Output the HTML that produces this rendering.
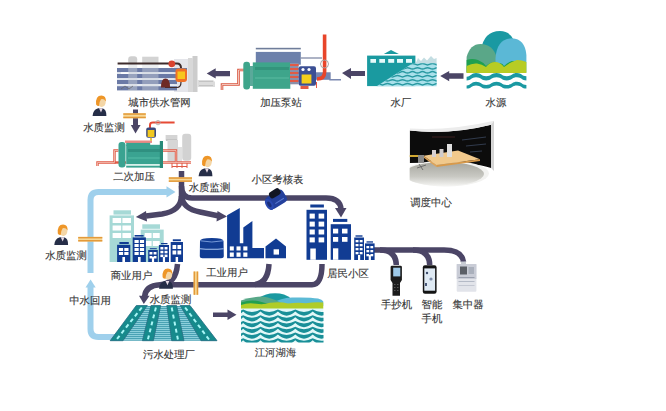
<!DOCTYPE html>
<html><head><meta charset="utf-8">
<style>
html,body{margin:0;padding:0;background:#fff;}
body{width:666px;height:411px;overflow:hidden;position:relative;font-family:"Liberation Sans",sans-serif;}
svg{position:absolute;left:0;top:0;}
.t{text-rendering:geometricPrecision;font-size:10.4px;fill:#363636;stroke:#363636;stroke-width:0.12px;font-family:"Liberation Sans",sans-serif;}
</style></head>
<body>
<svg width="666" height="411" viewBox="0 0 666 411">

<!-- light blue recycle pipe -->
<g fill="none" stroke="#9fd0ec" stroke-width="6">
<path d="M90.5 273 L90.5 200 Q90.5 192 98.5 192 L168 192"/>
<path d="M90.5 286 L90.5 329 Q90.5 337 98.5 337 L115 337"/>
</g>
<g fill="#9fd0ec">
<path d="M175.5 192 L166.5 186.3 L166.5 197.5 Z"/>
<path d="M90.6 279.5 L85.5 287.5 L95.7 287.5 Z"/>
</g>
<!-- purple supply pipes -->
<g fill="none" stroke="#4b4566" stroke-width="5.5">
<path d="M181.5 171 L181.5 200"/>
<path d="M181.5 186 Q181.5 198 192 198 L326 198 Q340 198 341 209"/>
<path d="M181.5 196 Q181 211 162 214 L146 216"/>
<path d="M181.5 196 Q183 209 200 212 L219 216"/>
<path d="M374 250 L444 250 Q462 250 463.5 262"/>
<path d="M380 250 Q396 250 396.3 265"/>
<path d="M413 250 Q429.5 250 429.7 265"/>
<path d="M177.5 264 Q176 284 160 284.8 Q145.5 285.5 144.5 297"/>
<path d="M160 284.8 L312 284.8 Q322 284.5 322 264"/>
<path d="M255 284.5 Q268 283 269 264"/>
</g>
<g fill="#4b4566">
<path d="M341 217.5 L335 208 L346.5 208 Z"/>
<path d="M135.8 217 L146 211 L147 221.5 Z"/>
<path d="M227 216.5 L217.5 211 L216.5 221.5 Z"/>
<path d="M143.8 304 L139 295.8 L149.6 295.8 Z"/>
<path d="M213 312.5 L227.5 312.5 L227.5 309.5 L236.5 314.7 L227.5 320 L227.5 317 L213 317 Z"/>
<path d="M130.8 125 L140.6 125 L135.5 133.5 Z"/>
</g>
<rect x="133" y="109.5" width="5" height="16" fill="#4b4566"/>
<!-- buildings -->
<g>
<rect x="113.5" y="210.3" width="17.5" height="4.30" fill="#a6d9d6"/>
<rect x="109.6" y="215.4" width="24.400000000000006" height="46.599999999999994" fill="#a6d9d6"/>
<rect x="112.60" y="218.00" width="8.60" height="5" fill="#fff"/>
<rect x="122.40" y="218.00" width="8.60" height="5" fill="#fff"/>
<rect x="112.60" y="225.50" width="8.60" height="5" fill="#fff"/>
<rect x="122.40" y="225.50" width="8.60" height="5" fill="#fff"/>
<rect x="112.60" y="233.00" width="8.60" height="5" fill="#fff"/>
<rect x="122.40" y="233.00" width="8.60" height="5" fill="#fff"/>
<rect x="142.3" y="224.3" width="17.69999999999999" height="4.50" fill="#a6d9d6"/>
<rect x="140.7" y="229.6" width="23.0" height="32.400000000000006" fill="#a6d9d6"/>
<rect x="144.70" y="233.00" width="6.90" height="5" fill="#fff"/>
<rect x="152.80" y="233.00" width="6.90" height="5" fill="#fff"/>
<rect x="144.70" y="241.00" width="6.90" height="5" fill="#fff"/>
<rect x="152.80" y="241.00" width="6.90" height="5" fill="#fff"/>
<rect x="119.4" y="242" width="9.400000000000006" height="2.00" fill="#113c93"/>
<rect x="117.1" y="244.8" width="13.200000000000017" height="17.19999999999999" fill="#113c93"/>
<rect x="118.90" y="248.00" width="4.20" height="3" fill="#fff"/>
<rect x="124.30" y="248.00" width="4.20" height="3" fill="#fff"/>
<rect x="118.90" y="252.00" width="4.20" height="3" fill="#fff"/>
<rect x="124.30" y="252.00" width="4.20" height="3" fill="#fff"/>
<rect x="122.38" y="257" width="2.64" height="5" fill="#fff"/>
<rect x="134.6" y="235" width="9.0" height="1.60" fill="#113c93"/>
<rect x="132.7" y="237.4" width="13.200000000000017" height="24.599999999999994" fill="#113c93"/>
<rect x="134.50" y="240.00" width="4.20" height="3" fill="#fff"/>
<rect x="139.90" y="240.00" width="4.20" height="3" fill="#fff"/>
<rect x="134.50" y="244.00" width="4.20" height="3" fill="#fff"/>
<rect x="139.90" y="244.00" width="4.20" height="3" fill="#fff"/>
<rect x="134.50" y="248.00" width="4.20" height="3" fill="#fff"/>
<rect x="139.90" y="248.00" width="4.20" height="3" fill="#fff"/>
<rect x="134.50" y="252.00" width="4.20" height="3" fill="#fff"/>
<rect x="139.90" y="252.00" width="4.20" height="3" fill="#fff"/>
<rect x="137.98" y="257" width="2.64" height="5" fill="#fff"/>
<rect x="149.8" y="248.2" width="7.0" height="1.00" fill="#113c93"/>
<rect x="148.2" y="250" width="9.600000000000023" height="12" fill="#113c93"/>
<rect x="149.50" y="252.00" width="2.90" height="2.5" fill="#fff"/>
<rect x="153.60" y="252.00" width="2.90" height="2.5" fill="#fff"/>
<rect x="149.50" y="256.00" width="2.90" height="2.5" fill="#fff"/>
<rect x="153.60" y="256.00" width="2.90" height="2.5" fill="#fff"/>
<rect x="151.90" y="257" width="2.20" height="5" fill="#fff"/>
<rect x="161" y="243" width="6.5" height="1.20" fill="#113c93"/>
<rect x="158.9" y="245" width="10.099999999999994" height="17" fill="#113c93"/>
<rect x="160.40" y="247.00" width="2.95" height="2.5" fill="#fff"/>
<rect x="164.55" y="247.00" width="2.95" height="2.5" fill="#fff"/>
<rect x="160.40" y="250.80" width="2.95" height="2.5" fill="#fff"/>
<rect x="164.55" y="250.80" width="2.95" height="2.5" fill="#fff"/>
<rect x="160.40" y="254.60" width="2.95" height="2.5" fill="#fff"/>
<rect x="164.55" y="254.60" width="2.95" height="2.5" fill="#fff"/>
<rect x="162.85" y="257" width="2.20" height="5" fill="#fff"/>
<rect x="172.8" y="239.3" width="8.099999999999994" height="1.90" fill="#113c93"/>
<rect x="170.7" y="242" width="12.300000000000011" height="20" fill="#113c93"/>
<rect x="172.50" y="245.00" width="3.75" height="4" fill="#fff"/>
<rect x="177.45" y="245.00" width="3.75" height="4" fill="#fff"/>
<rect x="172.50" y="250.50" width="3.75" height="4" fill="#fff"/>
<rect x="177.45" y="250.50" width="3.75" height="4" fill="#fff"/>
<rect x="175.62" y="257" width="2.46" height="5" fill="#fff"/>
<rect x="310.3" y="204.5" width="13.6" height="3" fill="#113c93"/>
<rect x="306.5" y="209.8" width="20.5" height="50" fill="#113c93"/>
<rect x="309.6" y="213.6" width="5.2" height="5" fill="#fff"/><rect x="318.6" y="213.6" width="5.6" height="5" fill="#fff"/>
<rect x="309.6" y="221.6" width="5.2" height="5" fill="#fff"/><rect x="318.6" y="221.6" width="5.6" height="5" fill="#fff"/>
<rect x="309.6" y="229.5" width="5.2" height="5" fill="#fff"/><rect x="318.6" y="229.5" width="5.6" height="5" fill="#fff"/>
<rect x="309.6" y="237.4" width="5.2" height="5" fill="#fff"/><rect x="318.6" y="237.4" width="5.6" height="5" fill="#fff"/>
<rect x="310.3" y="248.5" width="5.5" height="11.3" fill="#fff"/>
<rect x="333" y="218.9" width="14.3" height="3" fill="#113c93"/>
<rect x="330.7" y="224.2" width="20.3" height="35.6" fill="#113c93"/>
<rect x="333" y="228.7" width="5.2" height="4.8" fill="#fff"/><rect x="342" y="228.7" width="5.5" height="4.8" fill="#fff"/>
<rect x="333" y="237" width="5.2" height="4.8" fill="#fff"/><rect x="342" y="237" width="5.5" height="4.8" fill="#fff"/>
<rect x="333" y="248.3" width="5.3" height="11.5" fill="#fff"/>
<rect x="355.5" y="235.3" width="7.0" height="1.40" fill="#113c93"/>
<rect x="354.2" y="237.5" width="9.800000000000011" height="22.5" fill="#113c93"/>
<rect x="355.60" y="240.00" width="2.90" height="2.3" fill="#fff"/>
<rect x="359.70" y="240.00" width="2.90" height="2.3" fill="#fff"/>
<rect x="355.60" y="244.00" width="2.90" height="2.3" fill="#fff"/>
<rect x="359.70" y="244.00" width="2.90" height="2.3" fill="#fff"/>
<rect x="355.60" y="248.00" width="2.90" height="2.3" fill="#fff"/>
<rect x="359.70" y="248.00" width="2.90" height="2.3" fill="#fff"/>
<rect x="355.60" y="252.00" width="2.90" height="2.3" fill="#fff"/>
<rect x="359.70" y="252.00" width="2.90" height="2.3" fill="#fff"/>
<rect x="358.00" y="255" width="2.20" height="5" fill="#fff"/>
<rect x="366.5" y="241.3" width="6.5" height="1.30" fill="#113c93"/>
<rect x="365" y="243.4" width="9.600000000000023" height="16.599999999999994" fill="#113c93"/>
<rect x="366.40" y="246.00" width="2.80" height="2.3" fill="#fff"/>
<rect x="370.40" y="246.00" width="2.80" height="2.3" fill="#fff"/>
<rect x="366.40" y="250.00" width="2.80" height="2.3" fill="#fff"/>
<rect x="370.40" y="250.00" width="2.80" height="2.3" fill="#fff"/>
<rect x="366.40" y="254.00" width="2.80" height="2.3" fill="#fff"/>
<rect x="370.40" y="254.00" width="2.80" height="2.3" fill="#fff"/>
<rect x="368.70" y="255" width="2.20" height="5" fill="#fff"/>
</g>
<!-- industrial -->
<g fill="#113c93">
<path d="M200 241 Q200 237.9 211.8 237.9 Q223.5 237.9 223.5 241 L223.8 256 Q223.8 258.2 221 258.2 L202.6 258.2 Q199.8 258.2 199.8 256 Z"/>
<path d="M227.1 215.2 L239.8 208 L239.8 243.3 L243.3 243.3 L243.3 227.6 L252.4 221 L252.4 248 L264 248 L264 258.3 L227.1 258.3 Z"/>
<path d="M265.5 258.3 L265.5 246.5 L276 238.6 L286 246.5 L286 258.3 Z"/>
</g>
<path d="M200.5 240.8 Q211.8 243.2 223 240.8" fill="none" stroke="#8fb0e8" stroke-width="0.8"/>
<path d="M200 248.7 Q211.8 249.8 223.6 248.7" fill="none" stroke="#a8c4f0" stroke-width="1.1"/>
<g fill="#fff">
<rect x="229.8" y="246.4" width="4" height="4.1"/><rect x="236.5" y="246.4" width="4.1" height="4.1"/><rect x="243.3" y="246.4" width="4.1" height="4.1"/>
<rect x="229.8" y="252.5" width="4" height="4.3"/><rect x="236.5" y="252.5" width="4.1" height="4.3"/><rect x="243.3" y="252.5" width="4.1" height="4.3"/>
<rect x="273.6" y="249.3" width="5.4" height="5.3"/>
</g>
<!-- sewage plant -->
<defs>
<pattern id="mesh" width="3" height="2" patternUnits="userSpaceOnUse">
<rect width="3" height="2" fill="#8ccfdb"/>
<rect width="3" height="1" fill="#4aa2b4"/>
</pattern>
</defs>
<path d="M137 306 L190 306 L217 340.7 L110 340.7 Z" fill="url(#mesh)"/>
<g fill="#168a8c" stroke="#2a6f84" stroke-width="0.8">
<path d="M136.3 305.5 L147.3 305.5 L123 340.7 L110.2 340.7 Z"/>
<path d="M151 305.5 L160.7 305.5 L153.4 340.7 L142.4 340.7 Z"/>
<path d="M166.8 305.5 L176.6 305.5 L184 340.7 L171.7 340.7 Z"/>
<path d="M180.2 305.5 L190 305.5 L217 340.7 L201 340.7 Z"/>
</g>
<g stroke="#a8f6f6" stroke-width="2" stroke-dasharray="4 3.2" fill="none">
<path d="M141.8 307.5 L116.6 339.5"/>
<path d="M155.9 307.5 L147.9 339.5"/>
<path d="M171.7 307.5 L177.9 339.5"/>
<path d="M185.1 307.5 L209 339.5"/>
</g>
<!-- lake -->
<defs><clipPath id="lakeclip"><rect x="241" y="290" width="82.5" height="52.6"/></clipPath></defs>
<g clip-path="url(#lakeclip)">
<rect x="241" y="308" width="82.5" height="36" fill="#e2f8f8"/>
<path d="M255 300 Q262 295 270 293.5 Q278 292.5 284 294.5 Q288 296 291 298.5 L291 306 L255 306 Z" fill="#1a99a0"/>
<path d="M273 303 Q280 298 292 297.5 Q310 297 318 298.5 Q322 299.5 323.5 301.5 L323.5 306 L273 306 Z" fill="#5cbad6"/>
<path d="M241 300.5 Q250 297 262 296.5 Q272 297.5 281 303 L281 306 L241 306 Z" fill="#58a888"/>
<path d="M241 302.5 Q250 299.5 258 301 Q266 303 273 305.5 L241 307 Z" fill="#22a050"/>
<path d="M241 305 Q248 302.5 256 303.8 Q264 305 270 302.8 Q280 301.2 288 303.5 Q298 302 306 303.2 Q316 301.6 323.5 302.6 L323.5 308.6 L241 308.6 Z" fill="#b0cc28"/>
<g fill="#198f98">
<path d="M225.70 309.60 Q234.40 314.20 243.10 309.60 Q251.80 314.20 260.50 309.60 Q269.20 314.20 277.90 309.60 Q286.60 314.20 295.30 309.60 Q304.00 314.20 312.70 309.60 Q321.40 314.20 330.10 309.60 L330.10 311.60 Q321.40 319.80 312.70 311.60 Q304.00 319.80 295.30 311.60 Q286.60 319.80 277.90 311.60 Q269.20 319.80 260.50 311.60 Q251.80 319.80 243.10 311.60 Q234.40 319.80 225.70 311.60 Z"/>
<path d="M225.70 315.35 Q234.40 319.95 243.10 315.35 Q251.80 319.95 260.50 315.35 Q269.20 319.95 277.90 315.35 Q286.60 319.95 295.30 315.35 Q304.00 319.95 312.70 315.35 Q321.40 319.95 330.10 315.35 L330.10 317.35 Q321.40 325.55 312.70 317.35 Q304.00 325.55 295.30 317.35 Q286.60 325.55 277.90 317.35 Q269.20 325.55 260.50 317.35 Q251.80 325.55 243.10 317.35 Q234.40 325.55 225.70 317.35 Z"/>
<path d="M225.70 321.10 Q234.40 325.70 243.10 321.10 Q251.80 325.70 260.50 321.10 Q269.20 325.70 277.90 321.10 Q286.60 325.70 295.30 321.10 Q304.00 325.70 312.70 321.10 Q321.40 325.70 330.10 321.10 L330.10 323.10 Q321.40 331.30 312.70 323.10 Q304.00 331.30 295.30 323.10 Q286.60 331.30 277.90 323.10 Q269.20 331.30 260.50 323.10 Q251.80 331.30 243.10 323.10 Q234.40 331.30 225.70 323.10 Z"/>
<path d="M225.70 326.85 Q234.40 331.45 243.10 326.85 Q251.80 331.45 260.50 326.85 Q269.20 331.45 277.90 326.85 Q286.60 331.45 295.30 326.85 Q304.00 331.45 312.70 326.85 Q321.40 331.45 330.10 326.85 L330.10 328.85 Q321.40 337.05 312.70 328.85 Q304.00 337.05 295.30 328.85 Q286.60 337.05 277.90 328.85 Q269.20 337.05 260.50 328.85 Q251.80 337.05 243.10 328.85 Q234.40 337.05 225.70 328.85 Z"/>
<path d="M225.70 332.60 Q234.40 337.20 243.10 332.60 Q251.80 337.20 260.50 332.60 Q269.20 337.20 277.90 332.60 Q286.60 337.20 295.30 332.60 Q304.00 337.20 312.70 332.60 Q321.40 337.20 330.10 332.60 L330.10 334.60 Q321.40 342.80 312.70 334.60 Q304.00 342.80 295.30 334.60 Q286.60 342.80 277.90 334.60 Q269.20 342.80 260.50 334.60 Q251.80 342.80 243.10 334.60 Q234.40 342.80 225.70 334.60 Z"/>
<path d="M225.70 338.35 Q234.40 342.95 243.10 338.35 Q251.80 342.95 260.50 338.35 Q269.20 342.95 277.90 338.35 Q286.60 342.95 295.30 338.35 Q304.00 342.95 312.70 338.35 Q321.40 342.95 330.10 338.35 L330.10 340.35 Q321.40 348.55 312.70 340.35 Q304.00 348.55 295.30 340.35 Q286.60 348.55 277.90 340.35 Q269.20 348.55 260.50 340.35 Q251.80 348.55 243.10 340.35 Q234.40 348.55 225.70 340.35 Z"/>
</g>
</g>

<!-- pump station -->
<g id="pump">
<path d="M222 90 L222 84.5 L238.5 84.5 L238.5 70 L244 70" fill="none" stroke="#d9553f" stroke-width="2.6"/>
<path d="M222 90 L222 84.5 L238.5 84.5 L238.5 70 L244 70" fill="none" stroke="#f8e0d8" stroke-width="0.8"/>
<rect x="255.8" y="47.8" width="45" height="1.6" fill="#6f7d9a"/>
<rect x="255.8" y="51.9" width="45" height="12.8" fill="#6c80ab"/>
<rect x="252.8" y="62.4" width="37.5" height="26.4" fill="#3ea58b"/>
<rect x="255" y="67" width="34" height="3" fill="#33947c"/>
<rect x="255" y="77" width="34" height="2" fill="#4cb096"/>
<rect x="243.3" y="61.7" width="6.7" height="27.9" rx="3" fill="#3ea58b"/>
<rect x="250" y="66" width="3" height="20" fill="#5aa99a"/>
<rect x="290" y="63" width="8.6" height="21.3" fill="#8b8fa8"/>
<g fill="#e25a45"><rect x="290" y="64" width="8.6" height="2"/><rect x="290" y="68" width="8.6" height="2"/><rect x="290" y="72" width="8.6" height="2"/><rect x="290" y="76" width="8.6" height="2"/><rect x="290" y="80" width="8.6" height="2"/></g>
<rect x="300" y="57.3" width="22" height="1.4" fill="#8a93ad"/>
<path d="M316 73 L330 73 L330 79.8 L341 79.8" fill="none" stroke="#7a88b0" stroke-width="1.4"/>
<rect x="316" y="73" width="14" height="6.8" fill="#7485b2"/>
<path d="M324.6 34.5 L324.6 72 Q324.6 79 317 79" fill="none" stroke="#e8452a" stroke-width="3.6"/>
<circle cx="324.5" cy="64" r="4" fill="none" stroke="#a8a8a8" stroke-width="1"/>
<rect x="298.6" y="66.2" width="17.4" height="19.6" rx="2" fill="#3b4f94"/>
<rect x="301.6" y="74.5" width="9.8" height="9" fill="#f4cf1c"/>
<circle cx="303" cy="69.5" r="1.6" fill="#fff"/><circle cx="309" cy="69.5" r="1.6" fill="#fff"/>
<rect x="300.5" y="86" width="8" height="3" fill="#e25a45"/>
<rect x="316" y="82" width="1" height="6" fill="#e25a45"/>
</g>
<!-- city network -->
<g id="net">
<rect x="174" y="59" width="18.5" height="33" fill="#e4e5ea"/>
<rect x="128.2" y="56.2" width="9" height="8" rx="3" fill="#cfcfcf"/>
<rect x="142.2" y="56.7" width="16.3" height="7" fill="#d3d3d3"/>
<rect x="117" y="68" width="70" height="4.2" fill="#6b7aa6"/>
<rect x="117" y="74" width="70" height="4.2" fill="#6b7aa6"/>
<rect x="117" y="80" width="60" height="4.2" fill="#6b7aa6"/>
<rect x="117" y="86.2" width="60" height="4.2" fill="#6b7aa6"/>
<rect x="117" y="72.4" width="70" height="1.4" fill="#d9e0ea"/>
<rect x="117" y="78.4" width="70" height="1.4" fill="#d9e0ea"/>
<rect x="117" y="84.4" width="60" height="1.6" fill="#e7ecf2"/>
<rect x="121" y="72.3" width="8" height="1.6" fill="#ffffff"/>
<rect x="128.2" y="63" width="9" height="28" fill="#d0d4dc" opacity="0.45"/>
<rect x="142.2" y="63" width="16.3" height="28" fill="#d0d4dc" opacity="0.4"/>
<rect x="188" y="58" width="4.5" height="34" fill="#d8d8d8"/>
<rect x="192.5" y="56" width="5" height="36" fill="#cccccc"/>
<path d="M197.5 80 L213 80 L215 82 L215 87 L197.5 87 Z" fill="#dcdcdc"/>
<path d="M199 81.5 L213 81.5 M199 85.5 L213 85.5" stroke="#bdbdbd" stroke-width="0.8"/>
<path d="M117.6 63.4 L177 63.4 Q181 63.4 181 68" fill="none" stroke="#3d2b2b" stroke-width="2"/>
<path d="M165 87.5 L177 87.5 Q181 87.5 181 82" fill="none" stroke="#3d2b2b" stroke-width="1.2"/>
<circle cx="171.8" cy="63.8" r="3.4" fill="#d9432f"/>
<path d="M161 87.5 Q161 78.5 165.5 78.5 Q170 78.5 170 87.5 Z" fill="#6e2a26"/>
<rect x="175.5" y="68.5" width="11.5" height="13.5" rx="3" fill="#f07026"/>
<rect x="177.5" y="71.5" width="7.5" height="7.5" fill="#f7c71c"/>
<path d="M121 89 L125 86 L129 89 L133 86" stroke="#666" stroke-width="0.7" fill="none"/>
</g>
<!-- secondary pressurization -->
<g id="sec">
<rect x="165.6" y="135" width="11.8" height="4" fill="#d4d4d4"/>
<path d="M165.6 139 L177.4 139 L177 141 L166 141 Z" fill="#c4c4c4"/>
<rect x="167.5" y="140" width="10.5" height="22" fill="#d6d6d6"/>
<rect x="178" y="147" width="4" height="15" fill="#e0e0e0"/>
<rect x="182.2" y="133.7" width="9" height="27" rx="3" fill="#d2d2d2"/>
<g fill="none" stroke="#e05a45" stroke-width="2.4">
<path d="M118.5 150.5 L114.5 150.5 L114.5 162.5 L97.5 162.5 L97.5 166"/>
<path d="M114.5 162.5 L126 162.5"/>
<path d="M163 150.5 L176 150.5 L176 162.5"/>
<path d="M162 162.5 L191 162.5"/>
</g>
<g fill="none" stroke="#f7d2c8" stroke-width="0.7">
<path d="M118.5 150.5 L114.5 150.5 L114.5 162.5 L97.5 162.5 L97.5 166"/>
<path d="M163 150.5 L176 150.5 L176 162.5"/>
<path d="M162 162.5 L191 162.5"/>
</g>
<g fill="none" stroke="#e05a45" stroke-width="1">
<path d="M172 163 L172 168 M177 163 L177 168 M182 163 L182 168 M187 163 L187 168"/>
<path d="M172 166.5 L187 166.5"/>
</g>
<rect x="126.2" y="142" width="24" height="4" fill="#3aa391"/>
<rect x="126.2" y="144.8" width="36.7" height="19.4" fill="#3aa391"/>
<rect x="128" y="149" width="32" height="3" fill="#2f9080"/>
<rect x="128" y="157" width="32" height="2" fill="#47b09c"/>
<rect x="126.2" y="164.2" width="36.7" height="1.6" fill="#d8f0ea"/>
<rect x="126.2" y="165.8" width="36.7" height="1.8" fill="#3aa391"/>
<rect x="118.5" y="142" width="7" height="25.6" rx="3" fill="#3aa391"/>
<rect x="159.8" y="141" width="3.2" height="27" fill="#2a8a78"/>
<rect x="125" y="140.5" width="27" height="2.4" fill="#ec8a86"/>
<path d="M150 128 L150 125 Q150 122.6 153 122.6 L174.6 122.6" fill="none" stroke="#e64a35" stroke-width="2"/>
<circle cx="158" cy="122.6" r="2.2" fill="none" stroke="#aaa" stroke-width="0.8"/>
<rect x="146.2" y="127.5" width="9.8" height="10.3" rx="2" fill="#3c4a7c"/>
<rect x="147.6" y="130" width="6.8" height="7" fill="#f2c81e"/>
<rect x="150" y="137.8" width="2" height="3" fill="#e8c04a"/>
</g>
<!-- arrows top row -->
<g fill="#4b4566">
<path d="M342 73 L351 68 L351 71 L365 71 L365 76 L351 76 L351 79 Z"/>
<path d="M440.2 76 L449.2 70.9 L449.2 73.3 L463.5 73.3 L463.5 78.7 L449.2 78.7 L449.2 81.2 Z"/>
<path d="M206.7 73.5 L215.7 68.3 L215.7 70.9 L230 70.9 L230 76.2 L215.7 76.2 L215.7 78.6 Z"/>
</g>

<!-- water source -->
<g id="src">
<path d="M481 50 Q484 31 500 31 Q513 31 516 48 L516 62 L481 62 Z" fill="#1a99a2"/>
<path d="M466.6 72.5 L466.6 57 Q470 44 480.5 43.9 Q493 44 497 58 L497 72.5 Z" fill="#5aa788"/>
<path d="M495.5 72.5 L495.5 58 Q497 38.3 512 38.3 Q525 39 526.4 55 L526.4 72.5 Z" fill="#5bb8d6"/>
<path d="M466.6 72.5 L466.6 60 Q472 58 478 60 Q483 62 486 66 Q490 62 496 62 L497 72.5 Z" fill="#1ea050"/>
<path d="M498 72.5 L498 64 Q502 62 504 66 Q508 62 512 61 L526 62 L526 72.5 Z" fill="#1ea050"/>
<path d="M466.6 73 L466.6 66 Q472 63 477 63.5 Q482 64 486 67 Q490 62 495 62 Q500 62 504 67 Q510 62 517 60 Q522 60 526.4 62 L526.4 73 Z" fill="#b7cc24"/>

<path d="M466.6 76.7 C471.30 76.20 471.30 73.00 476.00 73.00 C481.10 73.00 481.10 76.20 486.20 76.20 C491.35 76.20 491.35 73.00 496.50 73.00 C501.60 73.00 501.60 76.20 506.70 76.20 C511.85 76.20 511.85 73.00 517.00 73.00 C521.70 73.00 521.70 76.20 526.40 76.20 L526.4 80.4 C521.70 80.40 521.70 77.20 517.00 77.20 C511.85 77.20 511.85 80.40 506.70 80.40 C501.60 80.40 501.60 77.20 496.50 77.20 C491.35 77.20 491.35 80.40 486.20 80.40 C481.10 80.40 481.10 77.20 476.00 77.20 C471.30 77.20 471.30 80.40 466.60 80.40 Z" fill="#1a99a2"/>
<path d="M466.6 85.5 C471.30 85.00 471.30 81.80 476.00 81.80 C481.10 81.80 481.10 85.00 486.20 85.00 C491.35 85.00 491.35 81.80 496.50 81.80 C501.60 81.80 501.60 85.00 506.70 85.00 C511.85 85.00 511.85 81.80 517.00 81.80 C521.70 81.80 521.70 85.00 526.40 85.00 L526.4 88.6 C521.70 88.60 521.70 85.40 517.00 85.40 C511.85 85.40 511.85 88.60 506.70 88.60 C501.60 88.60 501.60 85.40 496.50 85.40 C491.35 85.40 491.35 88.60 486.20 88.60 C481.10 88.60 481.10 85.40 476.00 85.40 C471.30 85.40 471.30 88.60 466.60 88.60 Z" fill="#1a99a2"/>
</g>

<!-- water plant -->
<g id="plant">
<path d="M383.8 54 L391 50 L398.8 54 Z" fill="#1a9aa0"/>
<rect x="367.1" y="55.6" width="48.3" height="30.5" fill="#1a9aa0"/>
<g fill="#e6fafa"><rect x="370.4" y="59" width="5.6" height="3.8"/><rect x="379.3" y="59" width="5.7" height="3.8"/><rect x="388.2" y="59" width="6" height="3.8"/><rect x="397" y="59" width="6" height="3.8"/><rect x="406" y="59" width="6" height="3.8"/></g>
<path d="M415.4 64 L418 58 L421 61 L424 57.5 L427 60.5 L431 56 L434 59 L436.6 58 L436.6 64 Z" fill="#c3dde2"/>
<defs><clipPath id="plclip"><path d="M376.6 86.3 L412.7 63.2 L436.6 63.2 L436.6 86.3 Z"/></clipPath></defs>
<g clip-path="url(#plclip)">
<rect x="370" y="62" width="70" height="26" fill="#a9e0ea"/>
<g fill="none" stroke="#2a9aa2" stroke-width="1.5">
<path d="M360 64.2 Q362.5 62.800000000000004 365 64.2 Q367.5 65.60000000000001 370 64.2 Q372.5 62.800000000000004 375 64.2 Q377.5 65.60000000000001 380 64.2 Q382.5 62.800000000000004 385 64.2 Q387.5 65.60000000000001 390 64.2 Q392.5 62.800000000000004 395 64.2 Q397.5 65.60000000000001 400 64.2 Q402.5 62.800000000000004 405 64.2 Q407.5 65.60000000000001 410 64.2 Q412.5 62.800000000000004 415 64.2 Q417.5 65.60000000000001 420 64.2 Q422.5 62.800000000000004 425 64.2 Q427.5 65.60000000000001 430 64.2 Q432.5 62.800000000000004 435 64.2 Q437.5 65.60000000000001 440 64.2"/>
<path d="M365 68.4 Q367.5 67.0 370 68.4 Q372.5 69.80000000000001 375 68.4 Q377.5 67.0 380 68.4 Q382.5 69.80000000000001 385 68.4 Q387.5 67.0 390 68.4 Q392.5 69.80000000000001 395 68.4 Q397.5 67.0 400 68.4 Q402.5 69.80000000000001 405 68.4 Q407.5 67.0 410 68.4 Q412.5 69.80000000000001 415 68.4 Q417.5 67.0 420 68.4 Q422.5 69.80000000000001 425 68.4 Q427.5 67.0 430 68.4 Q432.5 69.80000000000001 435 68.4 Q437.5 67.0 440 68.4 Q442.5 69.80000000000001 445 68.4"/>
<path d="M360 72.3 Q362.5 70.89999999999999 365 72.3 Q367.5 73.7 370 72.3 Q372.5 70.89999999999999 375 72.3 Q377.5 73.7 380 72.3 Q382.5 70.89999999999999 385 72.3 Q387.5 73.7 390 72.3 Q392.5 70.89999999999999 395 72.3 Q397.5 73.7 400 72.3 Q402.5 70.89999999999999 405 72.3 Q407.5 73.7 410 72.3 Q412.5 70.89999999999999 415 72.3 Q417.5 73.7 420 72.3 Q422.5 70.89999999999999 425 72.3 Q427.5 73.7 430 72.3 Q432.5 70.89999999999999 435 72.3 Q437.5 73.7 440 72.3"/>
<path d="M365 76.2 Q367.5 74.8 370 76.2 Q372.5 77.60000000000001 375 76.2 Q377.5 74.8 380 76.2 Q382.5 77.60000000000001 385 76.2 Q387.5 74.8 390 76.2 Q392.5 77.60000000000001 395 76.2 Q397.5 74.8 400 76.2 Q402.5 77.60000000000001 405 76.2 Q407.5 74.8 410 76.2 Q412.5 77.60000000000001 415 76.2 Q417.5 74.8 420 76.2 Q422.5 77.60000000000001 425 76.2 Q427.5 74.8 430 76.2 Q432.5 77.60000000000001 435 76.2 Q437.5 74.8 440 76.2 Q442.5 77.60000000000001 445 76.2"/>
<path d="M360 80.4 Q362.5 79.0 365 80.4 Q367.5 81.80000000000001 370 80.4 Q372.5 79.0 375 80.4 Q377.5 81.80000000000001 380 80.4 Q382.5 79.0 385 80.4 Q387.5 81.80000000000001 390 80.4 Q392.5 79.0 395 80.4 Q397.5 81.80000000000001 400 80.4 Q402.5 79.0 405 80.4 Q407.5 81.80000000000001 410 80.4 Q412.5 79.0 415 80.4 Q417.5 81.80000000000001 420 80.4 Q422.5 79.0 425 80.4 Q427.5 81.80000000000001 430 80.4 Q432.5 79.0 435 80.4 Q437.5 81.80000000000001 440 80.4"/>
<path d="M365 84.2 Q367.5 82.8 370 84.2 Q372.5 85.60000000000001 375 84.2 Q377.5 82.8 380 84.2 Q382.5 85.60000000000001 385 84.2 Q387.5 82.8 390 84.2 Q392.5 85.60000000000001 395 84.2 Q397.5 82.8 400 84.2 Q402.5 85.60000000000001 405 84.2 Q407.5 82.8 410 84.2 Q412.5 85.60000000000001 415 84.2 Q417.5 82.8 420 84.2 Q422.5 85.60000000000001 425 84.2 Q427.5 82.8 430 84.2 Q432.5 85.60000000000001 435 84.2 Q437.5 82.8 440 84.2 Q442.5 85.60000000000001 445 84.2"/>
</g>
</g>
</g>>

<!-- dispatch center -->
<g id="disp">
<defs>
<linearGradient id="floorg" x1="0" y1="0" x2="0" y2="1">
<stop offset="0" stop-color="#a6a69e"/>
<stop offset="0.6" stop-color="#c8c8c2"/>
<stop offset="1" stop-color="#f4f4f2"/>
</linearGradient>
<clipPath id="dclip"><rect x="409.7" y="110" width="90" height="90"/></clipPath>
</defs>
<g clip-path="url(#dclip)">

<path d="M409.7 130.6 Q450 135 491.1 124.7 L491.1 168 Q470 161 409.7 163 Z" fill="#0c0c0c"/>
<path d="M409.7 130.6 Q450 135 491.1 124.7 L494 120.8 Q450 131 409.7 128.5 Z" fill="#ececec"/>
<path d="M491.1 124.7 L494 120.8 L494 171 L491.1 168 Z" fill="#d4d4d4"/>
<ellipse cx="446" cy="173.5" rx="43" ry="13" fill="#f2f2f0"/>
<ellipse cx="444" cy="174" rx="40" ry="12" fill="url(#floorg)"/>
<path d="M423.5 155.7 L458 150.5 L480 159.3 L436.4 165 Z" fill="#f1c98c"/>
<path d="M436.4 165 L480 159.3 L480 161 L436.4 167 Z" fill="#d99a4a"/>
<path d="M423.5 155.7 L436.4 165 L436.4 167 L423.5 157.5 Z" fill="#e0a458"/>
<rect x="400" y="155" width="21" height="2" fill="#f3c43a" opacity="0.85"/>
<rect x="432" y="150" width="4" height="7" fill="#d8d0d0"/>
<rect x="439.5" y="149" width="4" height="8" fill="#d0cccc"/>
<rect x="447" y="144" width="5" height="13" fill="#e0e0e0"/>
<rect x="418" y="155" width="6" height="8" fill="#8a8a8a"/>
<path d="M417 168 L426 165 M419 164 L423 170" stroke="#666" stroke-width="0.9"/>
<path d="M432 137 L455 137" stroke="#6a3030" stroke-width="0.5"/>
<path d="M462 140 L486 137 M466 146 L486 144 M470 152 L482 151" stroke="#4a5a78" stroke-width="0.6"/>
</g>
</g>
<!-- workers -->
<defs>
<g id="wk">
<path d="M-8.4 15 Q-8.2 8.6 -2.8 7.2 L1.5 7.2 Q5.6 8.4 5.4 15 Z" fill="#262e48"/>
<path d="M-2 7.2 L0 11.5 L1.8 7.2 Z" fill="#e8dbe6"/>
<ellipse cx="0.6" cy="1" rx="4.1" ry="5" fill="#f4d6a6"/>
<path d="M-4.9 3.5 Q-5.6 -5.4 0.4 -5.4 Q5.2 -5.2 4.9 0.5 Q3 -2.5 0 -1.8 Q-1.8 0.5 -2 5 Q-4.2 5 -4.9 3.5 Z" fill="#ee9628"/>
</g>
</defs>
<use href="#wk" x="101" y="101"/>
<use href="#wk" x="207" y="161.2"/>
<use href="#wk" x="62.7" y="230"/>
<use href="#wk" x="167.5" y="273.8"/>
<!-- meter -->
<g transform="translate(276 199) rotate(-32)">
<rect x="-10" y="-6.5" width="20" height="14" rx="4" fill="#24409c"/>
<ellipse cx="-8.5" cy="1" rx="3.5" ry="6.3" fill="#2a49b0"/>
<ellipse cx="-8.5" cy="1" rx="1.6" ry="3.2" fill="#1a2f7a"/>
<rect x="-4" y="-9" width="12" height="7" rx="3" fill="#111522"/>
<rect x="-3" y="3" width="10" height="1" fill="#5a78d0"/>
</g>
<!-- devices -->
<g id="dev">
<path d="M390.6 267 Q390.6 265.7 392 265.7 L400.5 265.7 Q401.9 265.7 401.9 267 L401.9 280 L400 283 L400 295.8 L392.5 295.8 L392.5 283 L390.6 280 Z" fill="#1b1b1b"/>
<rect x="393.2" y="267.7" width="7.1" height="8.7" fill="#9ec9e8"/>
<g fill="#555"><rect x="394" y="284" width="1.5" height="1"/><rect x="397" y="284" width="1.5" height="1"/><rect x="394" y="287" width="1.5" height="1"/><rect x="397" y="287" width="1.5" height="1"/><rect x="394" y="290" width="1.5" height="1"/><rect x="397" y="290" width="1.5" height="1"/></g>
<rect x="422.8" y="265.2" width="13.8" height="28.6" rx="2.2" fill="#141414"/>
<rect x="424.3" y="268.4" width="10.8" height="22.3" fill="#dfeaf4"/>
<circle cx="427" cy="273" r="1.2" fill="#3a4a6a"/><circle cx="431" cy="279" r="1.6" fill="#7a8aa8"/><rect x="425" y="283" width="2" height="3" fill="#4a5a7a"/>
<rect x="456.7" y="264" width="19.7" height="27.8" rx="1" fill="#e2e4ea"/>
<rect x="456.7" y="264" width="19.7" height="15" fill="#c9ccd6"/>
<rect x="460" y="266.5" width="7" height="8" fill="#5a5e66"/>
<rect x="468.5" y="267" width="5.5" height="7" fill="#aab0bc"/>
<rect x="458.5" y="277" width="16" height="1" fill="#9aa0ae"/>
<rect x="458.5" y="281" width="16" height="1" fill="#b4bac6"/>
<rect x="458.5" y="285" width="16" height="1" fill="#c4c8d2"/>
<rect x="461" y="261.5" width="5" height="3" fill="#c8ccd4"/>
</g>
<!-- orange bars -->
<g>
<rect x="123.3" y="113.3" width="22.5" height="5" fill="#f7d896"/>
<rect x="123.3" y="113.3" width="22.5" height="1.5" fill="#e39a3a"/>
<rect x="123.3" y="116.7" width="22.5" height="1.5" fill="#e39a3a"/>
<rect x="168.8" y="177.3" width="23.2" height="4.6" fill="#f7d896"/>
<rect x="168.8" y="177.3" width="23.2" height="1.5" fill="#e39a3a"/>
<rect x="168.8" y="180.4" width="23.2" height="1.5" fill="#e39a3a"/>
<rect x="78.2" y="236.9" width="24.1" height="4.6" fill="#f7d896"/>
<rect x="78.2" y="236.9" width="24.1" height="1.5" fill="#e39a3a"/>
<rect x="78.2" y="240" width="24.1" height="1.5" fill="#e39a3a"/>
<rect x="193.6" y="271.5" width="4.6" height="23.3" fill="#f7d896"/>
<rect x="193.6" y="271.5" width="1.5" height="23.3" fill="#e39a3a"/>
<rect x="196.7" y="271.5" width="1.5" height="23.3" fill="#e39a3a"/>
</g>
<!-- texts -->
<text class="t" x="496" y="106" text-anchor="middle">水源</text>
<text class="t" x="401" y="106" text-anchor="middle">水厂</text>
<text class="t" x="281" y="106" text-anchor="middle">加压泵站</text>
<text class="t" x="159.5" y="106" text-anchor="middle">城市供水管网</text>
<text class="t" x="104" y="131" text-anchor="middle">水质监测</text>
<text class="t" x="134" y="180" text-anchor="middle">二次加压</text>
<text class="t" x="209.5" y="191" text-anchor="middle">水质监测</text>
<text class="t" x="277.5" y="183" text-anchor="middle">小区考核表</text>
<text class="t" x="431" y="206" text-anchor="middle">调度中心</text>
<text class="t" x="66" y="259" text-anchor="middle">水质监测</text>
<text class="t" x="131.5" y="279" text-anchor="middle">商业用户</text>
<text class="t" x="227" y="276" text-anchor="middle">工业用户</text>
<text class="t" x="348" y="276.5" text-anchor="middle">居民小区</text>
<text class="t" x="90" y="304" text-anchor="middle">中水回用</text>
<text class="t" x="170.5" y="303" text-anchor="middle">水质监测</text>
<text class="t" x="396.5" y="308" text-anchor="middle">手抄机</text>
<text class="t" x="432" y="308" text-anchor="middle">智能</text>
<text class="t" x="432" y="321.5" text-anchor="middle">手机</text>
<text class="t" x="468" y="308" text-anchor="middle">集中器</text>
<text class="t" x="169" y="358" text-anchor="middle">污水处理厂</text>
<text class="t" x="275.5" y="356" text-anchor="middle">江河湖海</text>
</svg>
</body></html>
